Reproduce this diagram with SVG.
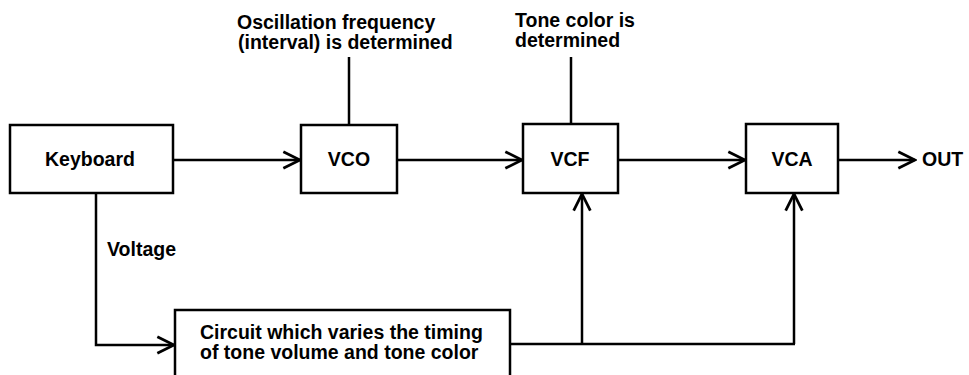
<svg xmlns="http://www.w3.org/2000/svg" width="969" height="375" viewBox="0 0 969 375">
<style>
  .box { fill: none; stroke: #000; stroke-width: 2.5; }
  .ln { fill: none; stroke: #000; stroke-width: 2.5; }
  .t { font-family: "Liberation Sans", Arial, sans-serif; font-weight: bold; font-size: 19.5px; fill: #000; }
  .c { text-anchor: middle; }
</style>
<defs>
  <marker id="arr" markerUnits="userSpaceOnUse" markerWidth="20" markerHeight="20" viewBox="-16 -9 18 18" refX="0" refY="0" orient="auto">
    <path d="M-15,-7.5 L0,0 L-15,7.5" fill="none" stroke="#000" stroke-width="2.5"/>
  </marker>
</defs>
<rect width="969" height="375" fill="#fff"/>

<g id="keyboard">
  <rect class="box" x="10" y="125" width="163" height="68"/>
  <text class="t c" x="90" y="166">Keyboard</text>
</g>
<g id="vco">
  <rect class="box" x="301" y="125" width="96" height="68"/>
  <text class="t c" x="349" y="166">VCO</text>
</g>
<g id="vcf">
  <rect class="box" x="523" y="124" width="95" height="69"/>
  <text class="t c" x="570" y="166">VCF</text>
</g>
<g id="vca">
  <rect class="box" x="746" y="124" width="92" height="69"/>
  <text class="t c" x="792" y="166">VCA</text>
</g>
<g id="circuit">
  <rect class="box" x="175" y="310" width="335" height="80"/>
  <text class="t" x="200" y="339">Circuit which varies the timing</text>
  <text class="t" x="200" y="359">of tone volume and tone color</text>
</g>
<g id="labels">
  <text class="t" x="237" y="29">Oscillation frequency</text>
  <text class="t" x="238" y="49">(interval) is determined</text>
  <text class="t" x="515" y="27">Tone color is</text>
  <text class="t" x="515" y="47">determined</text>
  <text class="t" x="107" y="256">Voltage</text>
  <text class="t" x="922" y="166">OUT</text>
</g>

<g id="connectors">
  <line class="ln" x1="173" y1="160" x2="300" y2="160" marker-end="url(#arr)"/>
  <line class="ln" x1="397" y1="160" x2="522" y2="160" marker-end="url(#arr)"/>
  <line class="ln" x1="618" y1="160" x2="745" y2="160" marker-end="url(#arr)"/>
  <line class="ln" x1="838" y1="160" x2="915" y2="160" marker-end="url(#arr)"/>
  <line class="ln" x1="349" y1="57" x2="349" y2="125"/>
  <line class="ln" x1="571" y1="57" x2="571" y2="124"/>
  <polyline class="ln" points="96,193 96,345 174,345" marker-end="url(#arr)"/>
  <polyline class="ln" points="510,344 795,344"/>
  <line class="ln" x1="582" y1="344" x2="582" y2="194" marker-end="url(#arr)"/>
  <line class="ln" x1="794" y1="344" x2="794" y2="194" marker-end="url(#arr)"/>
</g>
</svg>
